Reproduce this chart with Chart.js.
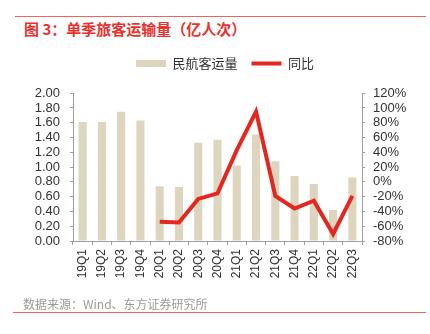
<!DOCTYPE html>
<html>
<head>
<meta charset="utf-8">
<script src="https://cdn.jsdelivr.net/npm/chart.js@4.4.0/dist/chart.umd.min.js"></script>
<style>
  html, body { margin: 0; padding: 0; background: #fff; }
  #wrap { position: relative; width: 430px; height: 334px; overflow: hidden; font-family: "Liberation Sans", Arial, "Noto Sans CJK SC", sans-serif; }
  #chart { position: absolute; left: 0; top: 0; }
  .rule { position: absolute; height: 1px; background: #f0625c; }
  #title { position: absolute; left: 24px; top: 18px; font-size: 15px; font-weight: bold; color: #e8322d; font-family: "Noto Sans CJK SC", sans-serif; white-space: nowrap; }
  #source { position: absolute; left: 23px; top: 295px; font-size: 12px; color: #9a9a9a; font-family: "Noto Sans CJK SC", sans-serif; white-space: nowrap; }
</style>
</head>
<body>
<div id="wrap">
  <div class="rule" style="left:15px; top:16px; width:411px;"></div>
  <div id="title">图 3：单季旅客运输量（亿人次）</div>
  <canvas id="chart" width="430" height="334"></canvas>
  <div id="source">数据来源：Wind、东方证券研究所</div>
  <div class="rule" style="left:13px; top:312px; width:413px;"></div>
</div>
<script>
const quarters = ["19Q1", "19Q2", "19Q3", "19Q4", "20Q1", "20Q2", "20Q3", "20Q4",
  "21Q1", "21Q2", "21Q3", "21Q4", "22Q1", "22Q2", "22Q3"];
// passenger volume, 100 million trips
const passengers = [1.61, 1.61, 1.75, 1.63, 0.74, 0.73, 1.33, 1.37,
  1.02, 1.44, 1.08, 0.88, 0.77, 0.42, 0.86];
// year-on-year change, %
const yoy = [null, null, null, null, -54, -55, -23, -15.5,
  43, 95, -19, -36, -25.5, -70.5, -19];

const axisColor = "#a0a0a0";
const tickFont = { family: "'Liberation Sans', Arial, sans-serif", size: 13 };

new Chart(document.getElementById("chart").getContext("2d"), {
  data: {
    labels: quarters,
    datasets: [
      {
        type: "line",
        label: "同比",
        data: yoy,
        yAxisID: "y1",
        borderColor: "#e5261f",
        backgroundColor: "#e5261f",
        borderWidth: 4,
        pointRadius: 0,
        pointStyle: "line",
        tension: 0,
        order: 0,
      },
      {
        type: "bar",
        label: "民航客运量",
        data: passengers,
        yAxisID: "y",
        backgroundColor: "#ded5bf",
        borderWidth: 0,
        barPercentage: 0.42,
        categoryPercentage: 1,
        pointStyle: "rect",
        order: 1,
      },
    ],
  },
  options: {
    responsive: false,
    animation: false,
    // left padding only nudges the legend right; the y axis width below absorbs it
    layout: { padding: { top: 43, left: 20, right: 0, bottom: 0 } },
    plugins: {
      legend: {
        position: "top",
        reverse: true,
        labels: {
          usePointStyle: true,
          pointStyleWidth: 30,
          boxWidth: 30,
          boxHeight: 7,
          padding: 14,
          color: "#333",
          font: { family: "'Noto Sans CJK SC', sans-serif", size: 13 },
        },
      },
      // empty subtitle used as a spacer between legend and plot
      subtitle: {
        display: true,
        text: " ",
        weight: 500,
        font: { size: 1 },
        padding: { top: 0, bottom: 12 },
      },
      tooltip: { enabled: false },
    },
    scales: {
      x: {
        offset: true,
        grid: { display: true, drawOnChartArea: false, offset: true, tickLength: 4, color: axisColor },
        border: { color: axisColor },
        ticks: {
          autoSkip: false,
          minRotation: 90,
          maxRotation: 90,
          color: "#333",
          padding: 4,
          font: { family: "'Liberation Sans', Arial, sans-serif", size: 12 },
        },
        afterFit: (scale) => { scale.height = 93; },
      },
      y: {
        position: "left",
        min: 0,
        max: 2,
        grid: { display: true, drawOnChartArea: false, tickLength: 3, color: axisColor },
        border: { color: axisColor },
        ticks: {
          autoSkip: false,
          stepSize: 0.2,
          color: "#333",
          padding: 10,
          font: tickFont,
          callback: (v) => v.toFixed(2),
        },
        afterFit: (scale) => { scale.width = 53; },
      },
      y1: {
        position: "right",
        min: -80,
        max: 120,
        grid: { display: true, drawOnChartArea: false, tickLength: 3, color: axisColor },
        border: { color: axisColor },
        ticks: {
          autoSkip: false,
          stepSize: 20,
          color: "#333",
          padding: 8,
          font: tickFont,
          callback: (v) => v + "%",
        },
        afterFit: (scale) => { scale.width = 68; },
      },
    },
  },
});
</script>
</body>
</html>
